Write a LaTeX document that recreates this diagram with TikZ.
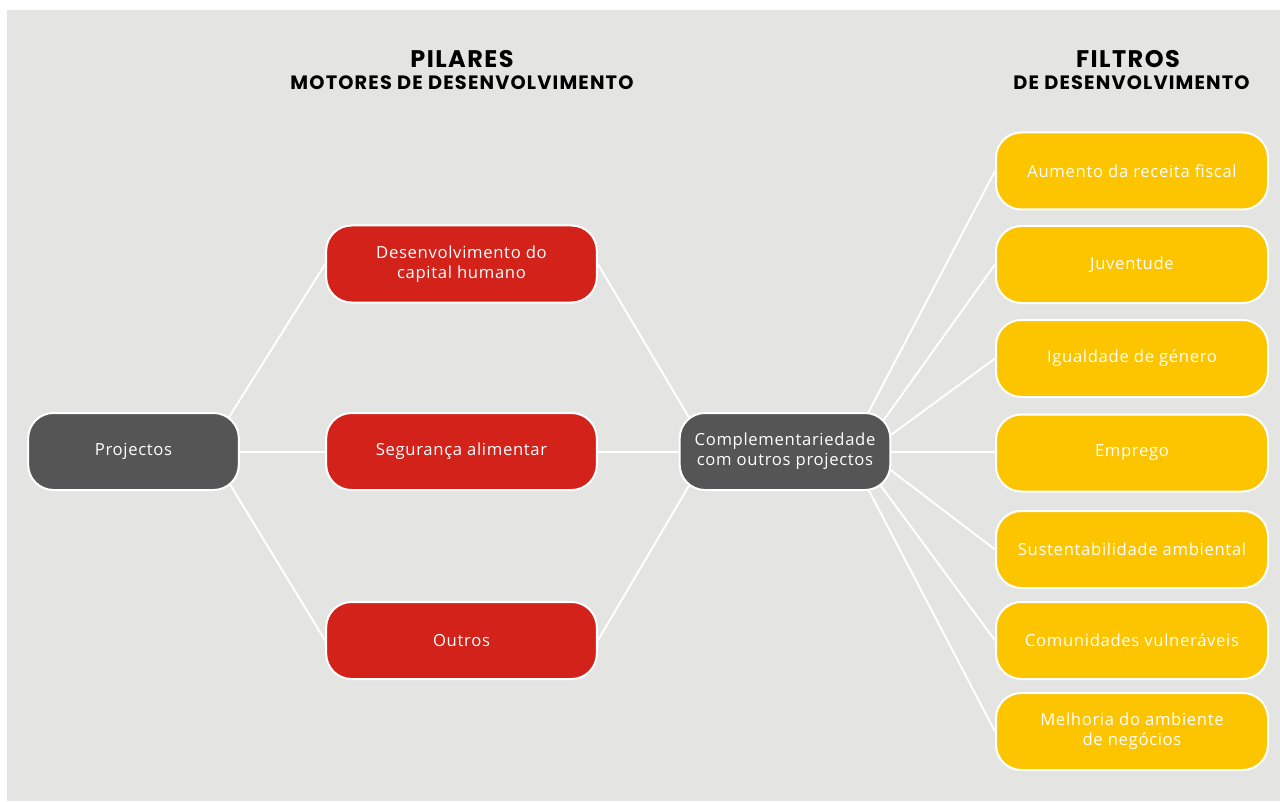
\documentclass[tikz,border=0pt]{standalone}
\usepackage{fontspec}
\setmainfont{Open Sans}[LetterSpace=4]
\newfontfamily\headfont{Poppins}[LetterSpace=6]
\usetikzlibrary{calc,backgrounds}
\definecolor{bggray}{HTML}{E4E4E2}
\definecolor{boxred}{HTML}{D2221A}
\definecolor{boxdark}{HTML}{555555}
\definecolor{boxyellow}{HTML}{FDC400}
\tikzset{
  box/.style={draw=white, line width=1.5pt, rounded corners=19pt, minimum height=57.75pt, inner sep=0pt, align=center, text=white, font=\fontsize{12.5}{15}\selectfont},
  darkbox/.style={box, fill=boxdark, minimum width=158pt},
  redbox/.style={box, fill=boxred, minimum width=203pt},
  yelbox/.style={box, fill=boxyellow, minimum width=204pt},
  link/.style={draw=white, line width=1.5pt},
  headA/.style={font=\headfont\fontsize{18}{20}\selectfont\bfseries, text=black, inner sep=0pt},
  headB/.style={font=\headfont\fontsize{14.5}{16}\selectfont\bfseries, text=black, inner sep=0pt}
}
\begin{document}
\begin{tikzpicture}[x=0.75pt, y=-0.75pt]
\useasboundingbox (0,0) rectangle (1280,802);

\node[headA] (h1) at (462,59) {PILARES};
\node[headB] (h2) at (462,83) {MOTORES DE DESENVOLVIMENTO};
\node[headA] (h3) at (1128,59) {FILTROS};
\node[headB] (h4) at (1131.5,83) {DE DESENVOLVIMENTO};

\node[darkbox] (p) at (133.5,451.5) {Projectos};
\node[redbox] (d) at (461.5,264) {Desenvolvimento do\\capital humano};
\node[redbox] (s) at (461.5,451.5) {Segurança alimentar};
\node[redbox] (o) at (461.5,640.5) {Outros};
\node[darkbox] (c) at (785,451.5) {Complementariedade\\com outros projectos};

\node[yelbox] (y1) at (1132,171) {Aumento da receita fiscal};
\node[yelbox] (y2) at (1132,264.5) {Juventude};
\node[yelbox] (y3) at (1132,358.5) {Igualdade de género};
\node[yelbox] (y4) at (1132,453) {Emprego};
\node[yelbox] (y5) at (1132,549.5) {Sustentabilidade ambiental};
\node[yelbox] (y6) at (1132,640.5) {Comunidades vulneráveis};
\node[yelbox] (y7) at (1132,731.5) {Melhoria do ambiente\\de negócios};

\begin{scope}[on background layer]
\fill[white] (0,0) rectangle (1280,802);
\fill[bggray] (7,10) rectangle (1280,801);
\draw[link] ($(p.north east)+(-17,15)$) -- (d.west);
\draw[link] (p.east) -- (s.west);
\draw[link] ($(p.south east)+(-15,-15)$) -- (o.west);
\draw[link] (d.east) -- ($(c.north west)+(16,15)$);
\draw[link] (s.east) -- (c.west);
\draw[link] (o.east) -- ($(c.south west)+(16,-15)$);
\draw[link] ($(c.north east)+(-28,10)$) -- (y1.west);
\draw[link] ($(c.north east)+(-14,17)$) -- (y2.west);
\draw[link] ($(c.east)+(-10,-9.5)$) -- (y3.west);
\draw[link] (c.east) -- (c.east -| y4.west);
\draw[link] ($(c.east)+(-10,11.5)$) -- (y5.west);
\draw[link] ($(c.south east)+(-14,-10)$) -- (y6.west);
\draw[link] ($(c.south east)+(-28,-11)$) -- (y7.west);
\end{scope}
\end{tikzpicture}
\end{document}
